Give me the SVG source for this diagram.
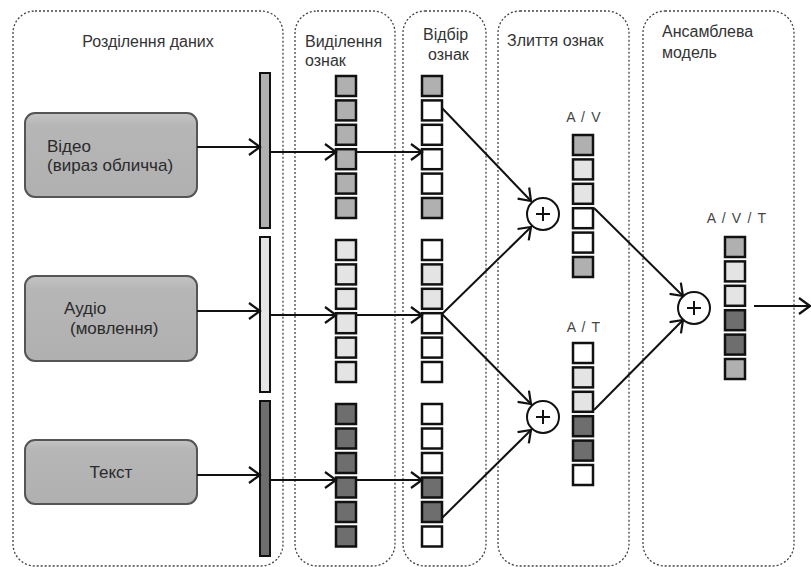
<svg xmlns="http://www.w3.org/2000/svg" width="811" height="567" viewBox="0 0 811 567">
<defs>
  <linearGradient id="boxg" x1="0" y1="0" x2="0" y2="1">
    <stop offset="0" stop-color="#c4c4c4"/>
    <stop offset="0.15" stop-color="#b6b6b6"/>
    <stop offset="1" stop-color="#b0b0b0"/>
  </linearGradient>
  <marker id="arr" markerUnits="userSpaceOnUse" markerWidth="14" markerHeight="18" refX="11" refY="8" orient="auto" viewBox="-1 -1 14 18">
    <path d="M0,0 L11,8 L0,16" fill="none" stroke="#111" stroke-width="2.2"/>
  </marker>
</defs>
<style>
  text { font-family: "Liberation Sans", Arial, sans-serif; fill: #333; }
  .hdr { font-size: 16px; }
  .lbl { font-size: 17px; fill: #2a2a2a; }
  .tag { font-size: 14px; fill: #444; letter-spacing: 1.2px; }
  .panel { fill: none; stroke: #444; stroke-width: 1.3; stroke-dasharray: 2 2; }
  .box { fill: url(#boxg); stroke: #555; stroke-width: 2; }
  .bar { stroke: #111; stroke-width: 2; }
  .sq { stroke: #111; stroke-width: 2.5; }
  .G { fill: #b0b0b0; } .L { fill: #e4e4e4; } .W { fill: #ffffff; } .D { fill: #6e6e6e; }
  .con { fill: none; stroke: #111; stroke-width: 2; marker-end: url(#arr); }
  .plus { fill: #fff; stroke: #111; stroke-width: 2; }
  .pl { stroke: #111; stroke-width: 2; }
</style>

<g id="panels">
  <rect class="panel" x="13" y="11" width="270" height="555" rx="22"/>
  <rect class="panel" x="295" y="11" width="100" height="555" rx="22"/>
  <rect class="panel" x="403" y="11" width="83" height="555" rx="22"/>
  <rect class="panel" x="498" y="11" width="131" height="555" rx="22"/>
  <rect class="panel" x="643" y="11" width="151" height="555" rx="22"/>
  <text class="hdr" x="148" y="47" text-anchor="middle">Розділення даних</text>
  <text class="hdr" x="305" y="47">Виділення</text>
  <text class="hdr" x="305" y="66">ознак</text>
  <text class="hdr" x="423" y="40">Відбір</text>
  <text class="hdr" x="428" y="60">ознак</text>
  <text class="hdr" x="507" y="46">Злиття ознак</text>
  <text class="hdr" x="662" y="37">Ансамблева</text>
  <text class="hdr" x="662" y="58">модель</text>
</g>

<g id="node-video">
  <rect class="box" x="25" y="113" width="172" height="84" rx="10"/>
  <text class="lbl" x="47" y="152">Відео</text>
  <text class="lbl" x="47" y="171">(вираз обличча)</text>
</g>
<g id="node-audio">
  <rect class="box" x="25" y="276" width="172" height="85" rx="10"/>
  <text class="lbl" x="64" y="314">Аудіо</text>
  <text class="lbl" x="70" y="334">(мовлення)</text>
</g>
<g id="node-text">
  <rect class="box" x="25" y="440" width="172" height="64" rx="10"/>
  <text class="lbl" x="111" y="478" text-anchor="middle">Текст</text>
</g>

<g id="bars">
  <rect class="bar G" x="260" y="73" width="10" height="155"/>
  <rect class="bar L" x="260" y="237" width="10" height="155"/>
  <rect class="bar D" x="260" y="401" width="10" height="155"/>
</g>

<g id="col-extract">
  <rect class="sq G" x="336" y="76" width="20" height="20"/>
  <rect class="sq G" x="336" y="100.4" width="20" height="20"/>
  <rect class="sq G" x="336" y="124.8" width="20" height="20"/>
  <rect class="sq G" x="336" y="149.2" width="20" height="20"/>
  <rect class="sq G" x="336" y="173.6" width="20" height="20"/>
  <rect class="sq G" x="336" y="198" width="20" height="20"/>
  <rect class="sq L" x="336" y="240" width="20" height="20"/>
  <rect class="sq L" x="336" y="264.4" width="20" height="20"/>
  <rect class="sq L" x="336" y="288.8" width="20" height="20"/>
  <rect class="sq L" x="336" y="313.2" width="20" height="20"/>
  <rect class="sq L" x="336" y="337.6" width="20" height="20"/>
  <rect class="sq L" x="336" y="362" width="20" height="20"/>
  <rect class="sq D" x="336" y="404" width="20" height="20"/>
  <rect class="sq D" x="336" y="428.5" width="20" height="20"/>
  <rect class="sq D" x="336" y="453" width="20" height="20"/>
  <rect class="sq D" x="336" y="477.5" width="20" height="20"/>
  <rect class="sq D" x="336" y="502" width="20" height="20"/>
  <rect class="sq D" x="336" y="526.5" width="20" height="20"/>
</g>

<g id="col-select">
  <rect class="sq G" x="422" y="76" width="20" height="20"/>
  <rect class="sq W" x="422" y="100.4" width="20" height="20"/>
  <rect class="sq W" x="422" y="124.8" width="20" height="20"/>
  <rect class="sq W" x="422" y="149.2" width="20" height="20"/>
  <rect class="sq W" x="422" y="173.6" width="20" height="20"/>
  <rect class="sq G" x="422" y="198" width="20" height="20"/>
  <rect class="sq W" x="422" y="240" width="20" height="20"/>
  <rect class="sq L" x="422" y="264.4" width="20" height="20"/>
  <rect class="sq L" x="422" y="288.8" width="20" height="20"/>
  <rect class="sq W" x="422" y="313.2" width="20" height="20"/>
  <rect class="sq W" x="422" y="337.6" width="20" height="20"/>
  <rect class="sq W" x="422" y="362" width="20" height="20"/>
  <rect class="sq W" x="422" y="404" width="20" height="20"/>
  <rect class="sq W" x="422" y="428.5" width="20" height="20"/>
  <rect class="sq W" x="422" y="453" width="20" height="20"/>
  <rect class="sq D" x="422" y="477.5" width="20" height="20"/>
  <rect class="sq D" x="422" y="502" width="20" height="20"/>
  <rect class="sq W" x="422" y="526.5" width="20" height="20"/>
</g>

<g id="fusion-av">
  <text class="tag" x="584" y="122" text-anchor="middle">A / V</text>
  <rect class="sq G" x="573" y="135" width="20" height="20"/>
  <rect class="sq L" x="573" y="159.4" width="20" height="20"/>
  <rect class="sq L" x="573" y="183.8" width="20" height="20"/>
  <rect class="sq W" x="573" y="208.2" width="20" height="20"/>
  <rect class="sq W" x="573" y="232.6" width="20" height="20"/>
  <rect class="sq G" x="573" y="257" width="20" height="20"/>
</g>
<g id="fusion-at">
  <text class="tag" x="584" y="332" text-anchor="middle">A / T</text>
  <rect class="sq W" x="573" y="343" width="20" height="20"/>
  <rect class="sq L" x="573" y="367.4" width="20" height="20"/>
  <rect class="sq L" x="573" y="391.8" width="20" height="20"/>
  <rect class="sq D" x="573" y="416.2" width="20" height="20"/>
  <rect class="sq D" x="573" y="440.6" width="20" height="20"/>
  <rect class="sq W" x="573" y="465" width="20" height="20"/>
</g>
<g id="ensemble-avt">
  <text class="tag" x="737" y="223" text-anchor="middle">A / V / T</text>
  <rect class="sq G" x="725" y="237" width="20" height="20"/>
  <rect class="sq L" x="725" y="261.4" width="20" height="20"/>
  <rect class="sq L" x="725" y="285.8" width="20" height="20"/>
  <rect class="sq D" x="725" y="310.2" width="20" height="20"/>
  <rect class="sq D" x="725" y="334.6" width="20" height="20"/>
  <rect class="sq G" x="725" y="359" width="20" height="20"/>
</g>

<g id="plus-1">
  <circle class="plus" cx="543" cy="214" r="16"/>
  <line class="pl" x1="536" y1="214" x2="550" y2="214"/><line class="pl" x1="543" y1="207" x2="543" y2="221"/>
</g>
<g id="plus-2">
  <circle class="plus" cx="543" cy="417" r="16"/>
  <line class="pl" x1="536" y1="417" x2="550" y2="417"/><line class="pl" x1="543" y1="410" x2="543" y2="424"/>
</g>
<g id="plus-3">
  <circle class="plus" cx="694" cy="308" r="16"/>
  <line class="pl" x1="687" y1="308" x2="701" y2="308"/><line class="pl" x1="694" y1="301" x2="694" y2="315"/>
</g>

<g id="connectors">
  <line class="con" x1="197" y1="147" x2="260" y2="147"/>
  <line class="con" x1="197" y1="311" x2="260" y2="311"/>
  <line class="con" x1="197" y1="475" x2="260" y2="475"/>
  <line class="con" x1="270" y1="152" x2="336" y2="152"/>
  <line class="con" x1="356" y1="152" x2="422" y2="152"/>
  <line class="con" x1="270" y1="315" x2="336" y2="315"/>
  <line class="con" x1="356" y1="315" x2="422" y2="315"/>
  <line class="con" x1="270" y1="480" x2="336" y2="480"/>
  <line class="con" x1="356" y1="480" x2="422" y2="480"/>
  <line class="con" x1="442" y1="108" x2="531" y2="201"/>
  <line class="con" x1="442" y1="314" x2="531" y2="227"/>
  <line class="con" x1="442" y1="314" x2="531" y2="404"/>
  <line class="con" x1="442" y1="518" x2="531" y2="430"/>
  <line class="con" x1="594" y1="208" x2="683" y2="296"/>
  <line class="con" x1="594" y1="410" x2="683" y2="320"/>
  <line class="con" x1="754" y1="306" x2="810" y2="306"/>
</g>
</svg>
